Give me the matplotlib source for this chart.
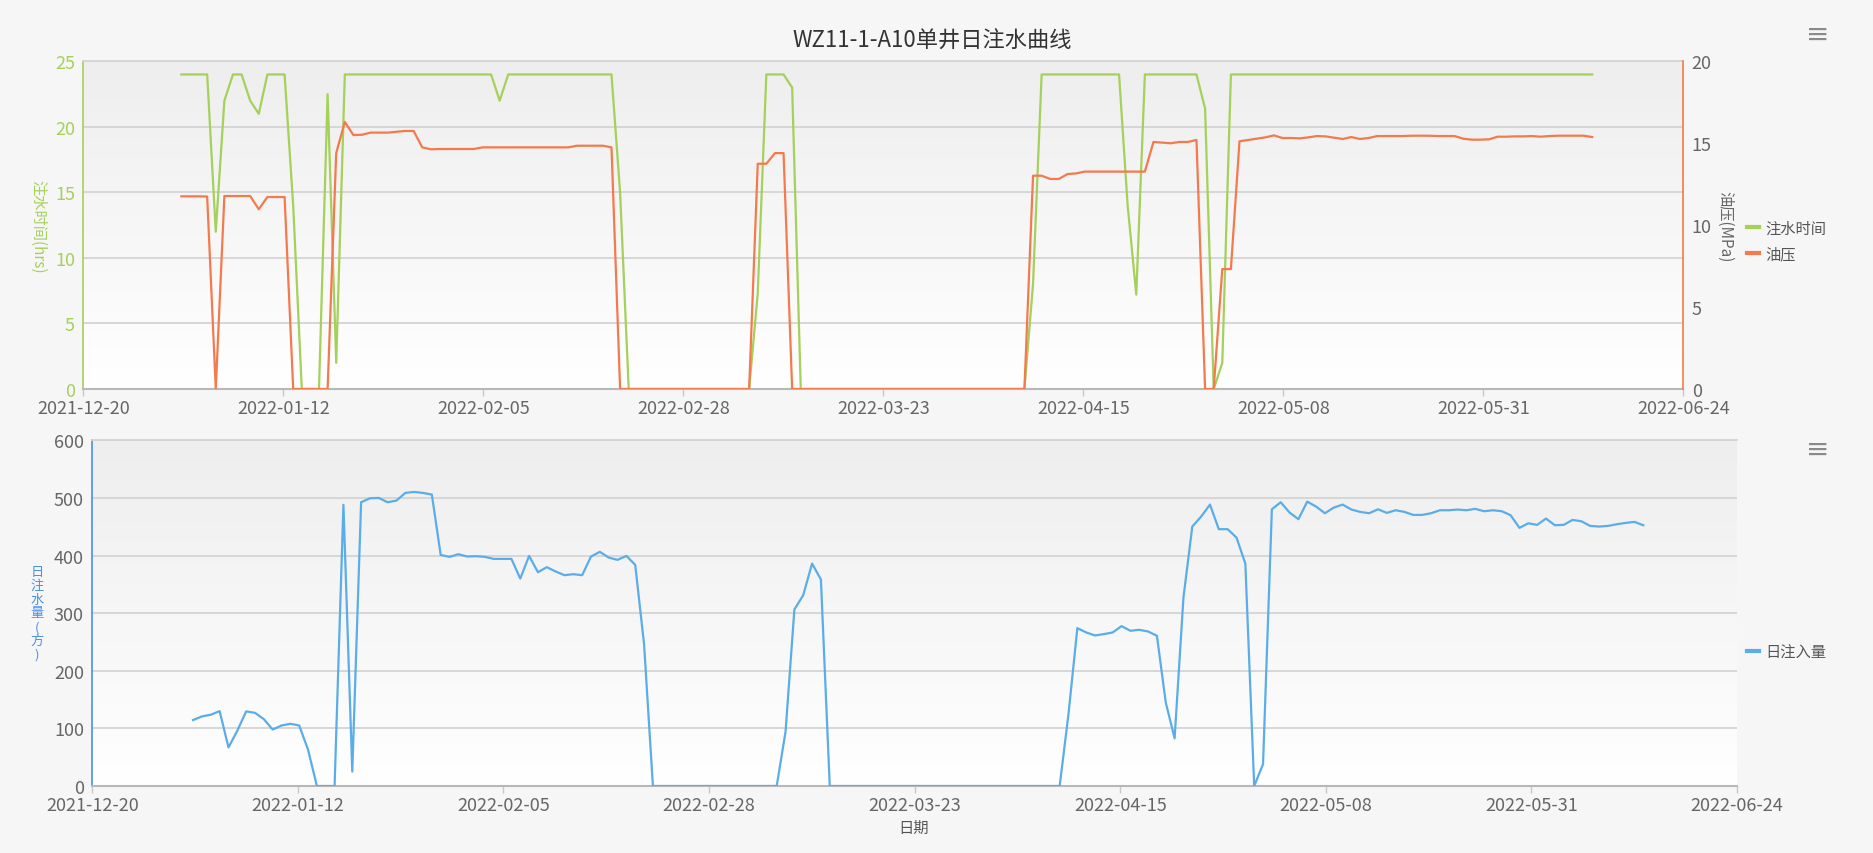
import numpy as np
import pandas as pd
import matplotlib
matplotlib.use("Agg")
import matplotlib.pyplot as plt
from matplotlib.colors import LinearSegmentedColormap
from matplotlib.lines import Line2D

plt.rcParams['font.family'] = ['Noto Sans CJK SC', 'DejaVu Sans']

title = 'WZ11-1-A10单井日注水曲线'
start_date = '2021-12-31'
axis_start = '2021-12-19 14:24'
axis_end = '2022-06-23 14:24'
tick_labels = ['2021-12-20', '2022-01-12', '2022-02-05', '2022-02-28', '2022-03-23',
               '2022-04-15', '2022-05-08', '2022-05-31', '2022-06-24']

# 注水时间 (hrs), one value per day
inject_hours = [
    24, 24, 24, 24, 12, 22, 24, 24, 22, 21,
    24, 24, 24, 14, 0, 0, 0, 22.5, 2, 24,
    24, 24, 24, 24, 24, 24, 24, 24, 24, 24,
    24, 24, 24, 24, 24, 24, 24, 22, 24, 24,
    24, 24, 24, 24, 24, 24, 24, 24, 24, 24,
    24, 15, 0, 0, 0, 0, 0, 0, 0, 0,
    0, 0, 0, 0, 0, 0, 0, 7.3, 24, 24,
    24, 23, 0, 0, 0, 0, 0, 0, 0, 0,
    0, 0, 0, 0, 0, 0, 0, 0, 0, 0,
    0, 0, 0, 0, 0, 0, 0, 0, 0, 8,
    24, 24, 24, 24, 24, 24, 24, 24, 24, 24,
    14, 7.2, 24, 24, 24, 24, 24, 24, 24, 21.4,
    0, 2, 24, 24, 24, 24, 24, 24, 24, 24,
    24, 24, 24, 24, 24, 24, 24, 24, 24, 24,
    24, 24, 24, 24, 24, 24, 24, 24, 24, 24,
    24, 24, 24, 24, 24, 24, 24, 24, 24, 24,
    24, 24, 24, 24, 24,
]

# 油压 (MPa)
oil_pressure = [
    11.76, 11.76, 11.76, 11.75, 0, 11.78, 11.78, 11.78, 11.78, 10.97,
    11.72, 11.72, 11.72, 0, 0, 0, 0, 0, 14.4, 16.3,
    15.5, 15.52, 15.65, 15.65, 15.65, 15.7, 15.75, 15.75, 14.75, 14.63,
    14.65, 14.65, 14.65, 14.65, 14.65, 14.75, 14.75, 14.75, 14.75, 14.75,
    14.75, 14.75, 14.75, 14.75, 14.75, 14.75, 14.85, 14.85, 14.85, 14.85,
    14.75, 0, 0, 0, 0, 0, 0, 0, 0, 0,
    0, 0, 0, 0, 0, 0, 0, 13.75, 13.75, 14.4,
    14.4, 0, 0, 0, 0, 0, 0, 0, 0, 0,
    0, 0, 0, 0, 0, 0, 0, 0, 0, 0,
    0, 0, 0, 0, 0, 0, 0, 0, 0, 13.02,
    13.02, 12.82, 12.82, 13.12, 13.16, 13.27, 13.27, 13.27, 13.27, 13.27,
    13.27, 13.27, 13.27, 15.08, 15.04, 15.0, 15.08, 15.08, 15.2, 0,
    0, 7.32, 7.32, 15.12, 15.2, 15.28, 15.36, 15.48, 15.32, 15.32,
    15.30, 15.36, 15.44, 15.42, 15.34, 15.26, 15.38, 15.26, 15.32, 15.44,
    15.44, 15.44, 15.44, 15.46, 15.46, 15.46, 15.44, 15.44, 15.44, 15.28,
    15.22, 15.22, 15.24, 15.40, 15.40, 15.42, 15.42, 15.44, 15.40, 15.44,
    15.46, 15.46, 15.46, 15.46, 15.38,
]

# 日注入量 (方)
daily_injection = [
    114.5, 120.8, 123.7, 130, 67, 96, 129.5, 127, 116, 98,
    105, 108, 105, 63, 0, 0, 0, 488, 25, 492.5,
    499.4, 500, 492.5, 495.4, 508.7, 510.4, 508.7, 505.8, 401, 397.7,
    402.3, 398.3, 398.8, 397.7, 394.2, 394.2, 394.2, 360, 399.4, 371,
    379.8, 372.3, 365.9, 367.6, 365.9, 398.3, 406.4, 396.5, 392.5, 399.4,
    383.8, 246.2, 0, 0, 0, 0, 0, 0, 0, 0,
    0, 0, 0, 0, 0, 0, 0, 94.2, 306.4, 331.2,
    386.1, 358.4, 0, 0, 0, 0, 0, 0, 0, 0,
    0, 0, 0, 0, 0, 0, 0, 0, 0, 0,
    0, 0, 0, 0, 0, 0, 0, 0, 0, 124.9,
    274, 266.5, 261.3, 263.6, 266.5, 277.5, 269.4, 271.1, 268.2, 260.7,
    145, 82.7, 327.2, 450.3, 467.6, 488.4, 445.7, 445.7, 431.2, 386.1,
    0, 38, 480.3, 492.5, 474.6, 463, 493.6, 485, 473.4, 483.2,
    488.4, 479.8, 475.7, 473.4, 480.3, 474, 478.6, 475.7, 470.5, 470.5,
    473.4, 478.6, 478.6, 479.8, 478.6, 481, 476.9, 478.6, 476.9, 470,
    448, 456, 453.2, 464.2, 452.6, 453.2, 461.8, 459.5, 451.4, 450.3,
    451.4, 454.3, 456.6, 458.4, 452.6,
]

GREEN = '#a5d05a'
ORANGE = '#f47a4e'
BLUE = '#5aade8'
AXBLUE = '#4a8fe8'
GREY = '#666666'
GRID = '#d4d4d4'

dates = pd.date_range(start_date, periods=len(inject_hours), freq='D')
xmin, xmax = pd.Timestamp(axis_start), pd.Timestamp(axis_end)
ticks = pd.date_range(xmin, xmax, periods=len(tick_labels))

fig = plt.figure(figsize=(18.73, 8.54), dpi=100, facecolor='#f6f6f6')
top_pos = [0.04447, 0.5433, 0.8543, 0.3837]
bot_pos = [0.04928, 0.07845, 0.8781, 0.4048]

# gradient plot backgrounds
bg_cmap = LinearSegmentedColormap.from_list('bg', ['#ffffff', '#eeeeee'])
grad = np.linspace(0, 1, 256).reshape(-1, 1)
for pos in (top_pos, bot_pos):
    bg = fig.add_axes(pos, zorder=-1)
    bg.imshow(grad, cmap=bg_cmap, aspect='auto', origin='lower', extent=[0, 1, 0, 1])
    bg.axis('off')


def style_axis(ax, left_color):
    ax.set_facecolor('none')
    ax.set_xlim(xmin, xmax)
    ax.set_xticks(ticks)
    ax.set_xticklabels(tick_labels)
    ax.tick_params(axis='x', length=5, width=1, color='#c8c8c8', labelcolor=GREY,
                   labelsize=13, pad=2)
    ax.tick_params(axis='y', length=0, labelsize=13, pad=6)
    ax.yaxis.grid(True, color=GRID, lw=1.3)
    ax.set_axisbelow(True)
    ax.spines['top'].set_color(GRID)
    ax.spines['top'].set_linewidth(1.3)
    ax.spines['bottom'].set_color('#b8b8b8')
    ax.spines['bottom'].set_linewidth(1.5)
    ax.spines['right'].set_visible(False)
    ax.spines['left'].set_color(left_color)
    ax.spines['left'].set_linewidth(1.2)


# ---- top: injection time + oil pressure ----
ax1 = fig.add_axes(top_pos)
ax2 = ax1.twinx()
style_axis(ax1, GREEN)
ax1.set_ylim(0, 25)
ax1.set_yticks([0, 5, 10, 15, 20, 25])
ax1.tick_params(axis='y', labelcolor=GREEN)
ax1.plot(dates, inject_hours, color=GREEN, lw=1.6, zorder=3)

ax2.set_facecolor('none')
ax2.set_ylim(0, 20)
ax2.set_yticks([0, 5, 10, 15, 20])
ax2.tick_params(axis='y', length=0, labelsize=13, labelcolor=GREY, pad=6)
for s in ('top', 'bottom', 'left'):
    ax2.spines[s].set_visible(False)
ax2.spines['right'].set_color(ORANGE)
ax2.spines['right'].set_linewidth(1.2)
ax2.plot(dates, oil_pressure, color=ORANGE, lw=1.6, zorder=3)
ax2.set_xlim(xmin, xmax)

# ---- bottom: daily injection ----
ax3 = fig.add_axes(bot_pos)
style_axis(ax3, AXBLUE)
ax3.set_ylim(0, 600)
ax3.set_yticks(range(0, 601, 100))
ax3.tick_params(axis='y', labelcolor=GREY)
ax3.plot(dates, daily_injection, color=BLUE, lw=1.6, zorder=3)

# ---- texts ----
W, H = 1873, 854
fig.text(932 / W, 1 - 41 / H, title, fontsize=16, color='#333333', ha='center', va='center')
fig.text(38 / W, 1 - 227 / H, '注水时间(hrs)', fontsize=11, color=GREEN, rotation=270,
         ha='center', va='center')
fig.text(1725 / W, 1 - 227 / H, '油压(MPa)', fontsize=11, color=GREY, rotation=270,
         ha='center', va='center')
fig.text(37 / W, 1 - 614 / H, '日\n注\n水\n量\n(\n方\n)', fontsize=9.5, color=AXBLUE,
         ha='center', va='center', linespacing=1.08)
fig.text(914 / W, 1 - 828 / H, '日期', fontsize=11, color='#555555', ha='center', va='center')
for y in (35, 450):
    fig.text(1818 / W, 1 - y / H, '≡', fontsize=20, color='#8a8a8a', ha='center', va='center',
             family='DejaVu Sans')

fig.legend(handles=[Line2D([], [], color=GREEN, lw=3), Line2D([], [], color=ORANGE, lw=3)],
           labels=['注水时间', '油压'], loc='center left', bbox_to_anchor=(1733 / W, 1 - 242 / H),
           frameon=False, fontsize=11, handlelength=0.8, handletextpad=0.4, labelspacing=0.55,
           labelcolor='#555555')
fig.legend(handles=[Line2D([], [], color=BLUE, lw=3)], labels=['日注入量'], loc='center left',
           bbox_to_anchor=(1733 / W, 1 - 653 / H), frameon=False, fontsize=11,
           handlelength=0.8, handletextpad=0.4, labelcolor='#555555')

fig.savefig('out.png', dpi=100, facecolor=fig.get_facecolor())
